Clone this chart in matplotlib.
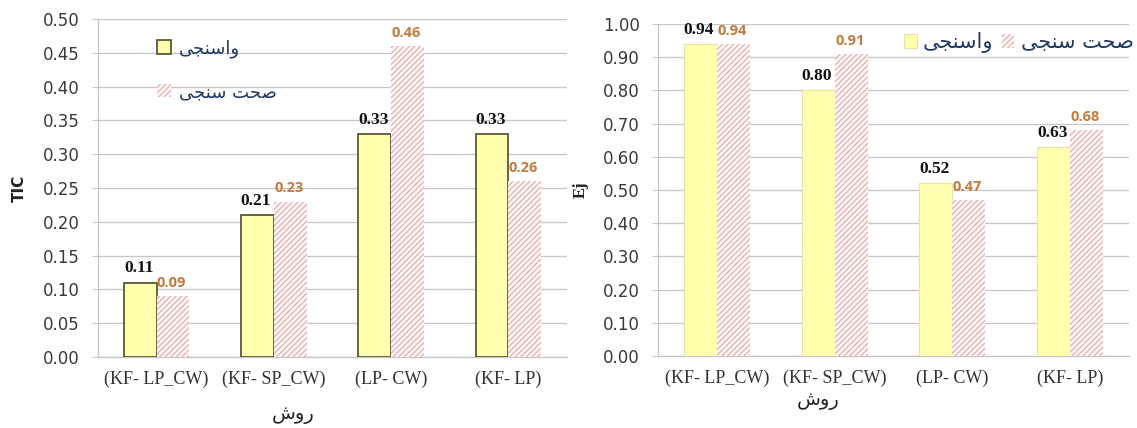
import numpy as np
import matplotlib
matplotlib.use("Agg")
import matplotlib.pyplot as plt

# Methods compared on the x axis
methods = ["(KF- LP_CW)", "(KF- SP_CW)", "(LP- CW)", "(KF- LP)"]

# TIC values (calibration / validation)
tic_cal = [0.11, 0.21, 0.33, 0.33]
tic_val = [0.09, 0.23, 0.46, 0.26]

# Ej values (calibration / validation)
ej_cal = [0.94, 0.80, 0.52, 0.63]
ej_val = [0.94, 0.91, 0.47, 0.68]

# Persian labels written as presentation forms in display order,
# because matplotlib does no Arabic shaping or bidi reordering.
lbl_cal = "\uFBFD\uFEA0\uFEE8\uFEB3\uFE8D\uFEED"          # واسنجی
lbl_val = "\uFBFD\uFEA0\uFEE8\uFEB3 \uFE96\uFEA4\uFEBB"   # صحت سنجی
lbl_method = "\uFEB5\uFEED\uFEAD"                         # روش

plt.rcParams["hatch.linewidth"] = 0.75

YELLOW = "#FFFFAE"
HATCH_BG = "#FFF7F7"
HATCH_FG = "#E2A0A0"
GRID = "#C8C8C8"
NAVY = "#1F3864"
ORANGE = "#C47A3A"

fig = plt.figure(figsize=(11.37, 4.28), dpi=100)
W, H = 1137, 428


def px_axes(x0, x1, ytop, ybot):
    return fig.add_axes([x0 / W, 1 - ybot / H, (x1 - x0) / W, (ybot - ytop) / H])


def draw_panel(ax, cal, val, ymax, step, yellow_edge, yellow_lw):
    x = np.arange(len(methods))
    w = 0.28
    b1 = ax.bar(x - w / 2, cal, w, color=YELLOW, edgecolor=yellow_edge,
                linewidth=yellow_lw, zorder=3)
    b2 = ax.bar(x + w / 2, val, w, color=HATCH_BG, edgecolor=HATCH_FG,
                linewidth=0, hatch="//////", zorder=3)

    for xi, v in zip(x, cal):
        ax.annotate(f"{v:.2f}", (xi - w / 2, v), xytext=(-1, 4.5),
                    textcoords="offset points", ha="center", va="bottom",
                    family="Liberation Serif", fontweight="bold",
                    fontsize=12.5, color="#111111")
    for xi, v in zip(x, val):
        ax.annotate(f"{v:.2f}", (xi + w / 2, v), xytext=(-1, 4.5),
                    textcoords="offset points", ha="center", va="bottom",
                    family="Open Sans", fontweight="bold",
                    fontsize=10.5, color=ORANGE)

    ax.set_xlim(-0.5, len(methods) - 0.5)
    ax.set_ylim(0, ymax)
    ax.set_yticks(np.arange(0, ymax + step / 2, step))
    ax.set_yticklabels([f"{t:.2f}" for t in ax.get_yticks()])
    ax.set_xticks(x)
    ax.set_xticklabels(methods, family="Liberation Serif", fontsize=13,
                       color="#333333")
    ax.tick_params(axis="x", length=0, pad=10)
    ax.tick_params(axis="y", length=4.3, color=GRID, pad=9,
                   labelsize=12, labelcolor="#3A3A3A")
    ax.grid(axis="y", color=GRID, linewidth=1, zorder=0)
    for side in ["top", "right"]:
        ax.spines[side].set_visible(False)
    for side in ["left", "bottom"]:
        ax.spines[side].set_color(GRID)
        ax.spines[side].set_linewidth(1)
    return b1, b2


# Left panel: TIC
ax1 = px_axes(98, 567, 19, 357)
c1, v1 = draw_panel(ax1, tic_cal, tic_val, 0.5, 0.05, "#4B4B2E", 1.2)
ax1.legend([c1, v1], [lbl_cal, lbl_val], loc="upper left",
           bbox_to_anchor=(150 / W, 1 - 32 / H), bbox_transform=fig.transFigure,
           frameon=False, prop={"family": "DejaVu Sans", "size": 13},
           labelcolor=NAVY, handlelength=0.75, handleheight=0.75,
           handletextpad=0.45, labelspacing=1.4, borderaxespad=0)
fig.text(19 / W, 1 - 188 / H, "TIC", rotation=90, ha="center", va="center",
         fontsize=11, fontweight="bold", color="#222222")
fig.text(293 / W, 1 - 415 / H, lbl_method, ha="center", va="center",
         family="DejaVu Sans", fontsize=14, color="#222222")

# Right panel: Ej
ax2 = px_axes(658, 1129, 24, 356)
c2, v2 = draw_panel(ax2, ej_cal, ej_val, 1.0, 0.1, "#E6E6A0", 0.8)
ax2.legend([c2, v2], [lbl_cal, lbl_val], loc="upper left", ncol=2,
           bbox_to_anchor=(896 / W, 1 - 24 / H), bbox_transform=fig.transFigure,
           frameon=False, prop={"family": "DejaVu Sans", "size": 15},
           labelcolor=NAVY, handlelength=0.6, handleheight=0.6,
           handletextpad=0.3, columnspacing=0.4, borderaxespad=0)
fig.text(581 / W, 1 - 190 / H, "Ej", rotation=90, ha="center", va="center",
         family="Liberation Serif", fontsize=12, fontweight="bold",
         color="#222222")
fig.text(818 / W, 1 - 400 / H, lbl_method, ha="center", va="center",
         family="DejaVu Sans", fontsize=14, color="#222222")

fig.savefig("out.png", dpi=100)
